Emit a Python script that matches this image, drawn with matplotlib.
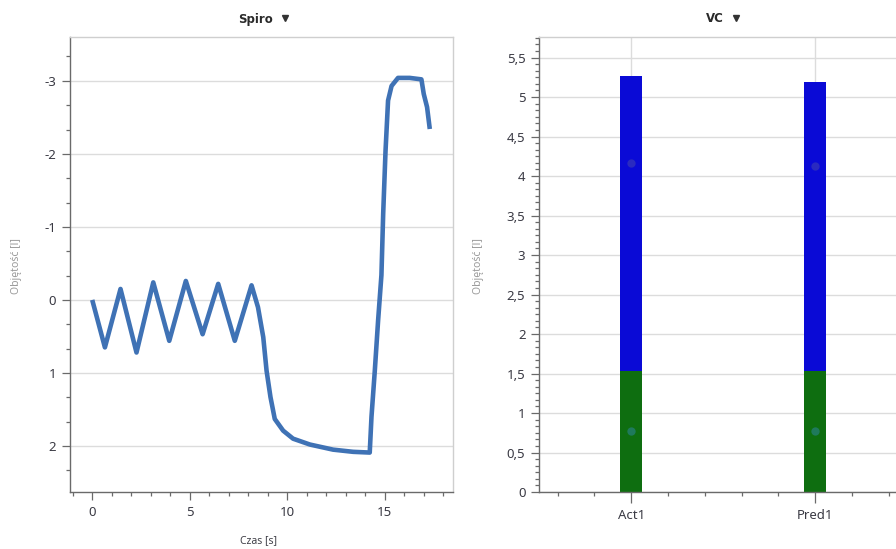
import matplotlib
matplotlib.use("Agg")
import matplotlib.pyplot as plt
from matplotlib.ticker import MultipleLocator, FuncFormatter, FixedLocator
from matplotlib.lines import Line2D

plt.rcParams['font.family'] = ['Noto Sans', 'DejaVu Sans']

# --- Spiro: volume-time curve (time in s, volume in l) ---
spiro_time = [0.0, 0.65, 1.45, 2.27, 3.13, 3.95, 4.80, 5.66, 6.46, 7.31, 8.17,
              8.50, 8.77, 8.94, 9.14, 9.36, 9.79, 10.30, 11.16, 12.35, 13.38, 14.23,
              14.32, 14.49, 14.66, 14.83, 14.92, 15.04, 15.17, 15.35, 15.68,
              16.28, 16.88, 17.00, 17.17, 17.31]
spiro_volume = [0.0, 0.65, -0.15, 0.72, -0.24, 0.56, -0.26, 0.47, -0.22, 0.56, -0.20,
                0.10, 0.51, 0.97, 1.33, 1.63, 1.79, 1.90, 1.98, 2.05, 2.08, 2.09,
                1.60, 0.97, 0.28, -0.34, -1.18, -2.04, -2.73, -2.93, -3.04,
                -3.04, -3.02, -2.82, -2.64, -2.34]

# --- VC: stacked volume bars ---
vc_categories = ['Act1', 'Pred1']
vc_lower = [1.53, 1.53]
vc_total = [5.26, 5.19]
vc_upper_marker = [4.17, 4.13]
vc_lower_marker = [0.77, 0.77]

W, H = 896, 549
fig = plt.figure(figsize=(W / 100, H / 100), dpi=100)


def box(x0, y0, x1, y1):
    return [x0 / W, 1 - y1 / H, (x1 - x0) / W, (y1 - y0) / H]


TICK_COLOR = '#3a3a44'
SPINE_DARK = '#6a6a6a'
SPINE_LIGHT = '#cfcfcf'
GRID = '#dcdcdc'


def style_axes(ax):
    for side in ('left', 'bottom'):
        ax.spines[side].set_color(SPINE_DARK)
        ax.spines[side].set_linewidth(1.0)
    for side in ('top', 'right'):
        ax.spines[side].set_color(SPINE_LIGHT)
        ax.spines[side].set_linewidth(1.0)
    ax.tick_params(which='major', length=6, width=0.9, color=SPINE_DARK,
                   labelsize=9.5, labelcolor=TICK_COLOR, pad=4)
    ax.tick_params(which='minor', length=3, width=0.9, color=SPINE_DARK)
    ax.set_axisbelow(True)


comma = FuncFormatter(lambda v, p: ('%g' % v).replace('.', ','))

# Left chart
ax1 = fig.add_axes(box(70, 37, 453, 492))
ax1.plot(spiro_time, spiro_volume, color='#3f72b5', linewidth=3.3,
         solid_joinstyle='round', solid_capstyle='butt', zorder=3)
ax1.set_xlim(-1.14, 18.5)
ax1.set_ylim(2.63, -3.6)
ax1.xaxis.set_major_locator(MultipleLocator(5))
ax1.xaxis.set_minor_locator(MultipleLocator(1))
ax1.yaxis.set_major_locator(MultipleLocator(1))
ax1.yaxis.set_minor_locator(MultipleLocator(1 / 3))
ax1.yaxis.set_major_formatter(comma)
ax1.grid(axis='y', which='major', color=GRID, linewidth=1.0)
style_axes(ax1)

# Right chart
ax2 = fig.add_axes(box(539.3, 37, 907, 492))
x = list(range(len(vc_categories)))
upper = [t - l for t, l in zip(vc_total, vc_lower)]
ax2.bar(x, vc_lower, width=0.12, color='#0e6e10', zorder=2)
ax2.bar(x, upper, bottom=vc_lower, width=0.12, color='#0a0ad6', zorder=2)
ax2.scatter(x, vc_upper_marker, s=36, color='#2a2ac0', zorder=3, linewidths=0)
ax2.scatter(x, vc_lower_marker, s=36, color='#1f7a5c', zorder=3, linewidths=0)
ax2.set_xlim(-0.5, 1.5)
ax2.set_ylim(0, 5.76)
ax2.set_xticks(x)
ax2.set_xticklabels(vc_categories)
ax2.xaxis.set_minor_locator(FixedLocator([-0.4, -0.2, 0.2, 0.4, 0.6, 0.8, 1.2, 1.4]))
ax2.yaxis.set_major_locator(MultipleLocator(0.5))
ax2.yaxis.set_minor_locator(MultipleLocator(0.5 / 6))
ax2.yaxis.set_major_formatter(comma)
ax2.grid(which='major', color=GRID, linewidth=1.0)
style_axes(ax2)
ax2.tick_params(axis='x', which='major', length=8)

# Axis titles and chart headings
fig.text(258 / W, 1 - 541 / H, 'Czas [s]', ha='center', va='center',
         fontsize=7.5, color='#404048')
for xc in (16, 478):
    fig.text(xc / W, 1 - 266 / H, 'Objętość [l]', ha='center', va='center',
             rotation=90, fontsize=7.5, color='#9a9a9a')

for label, x_right, x_tri in (('Spiro', 273, 285), ('VC', 724, 736)):
    fig.text(x_right / W, 1 - 19 / H, label, ha='right', va='center',
             fontsize=8.5, fontweight='bold', color='#2a2a2a',
             family=['DejaVu Sans'])
    fig.add_artist(Line2D([x_tri / W], [1 - 18 / H], marker='v', markersize=5,
                          color='#333333', linestyle='none',
                          transform=fig.transFigure))

fig.savefig('out.png', dpi=100)
